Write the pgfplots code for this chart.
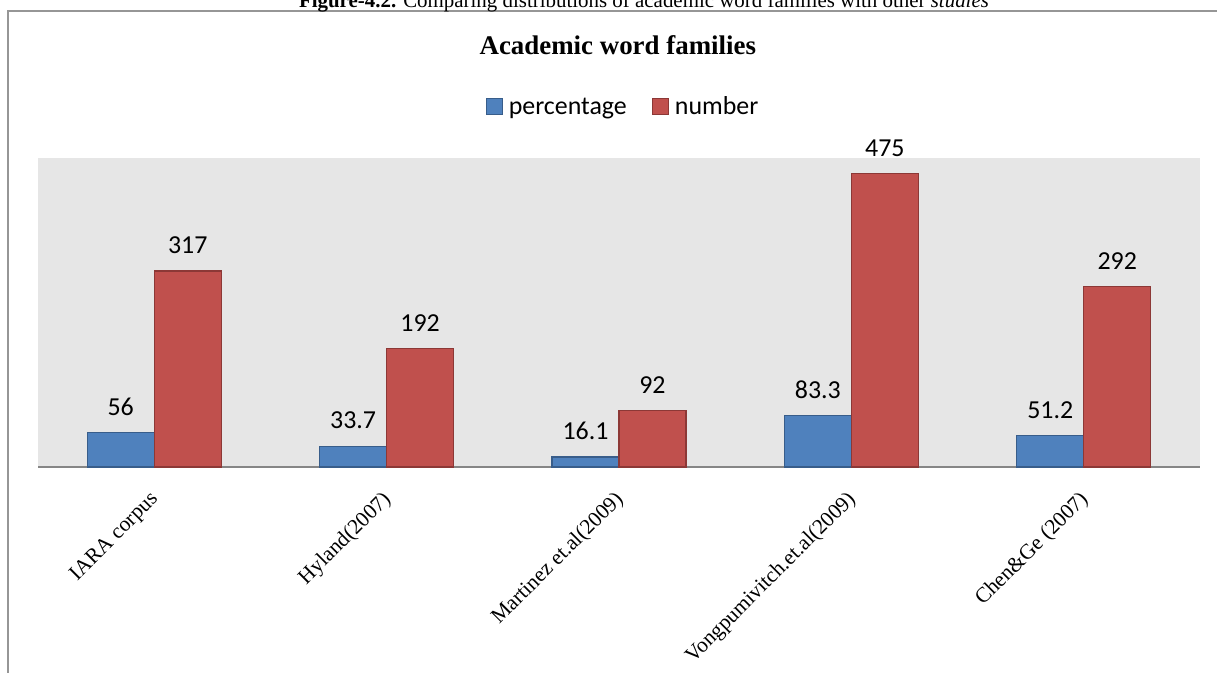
\documentclass[border=0pt]{standalone}
\usepackage{fontspec}
\setmainfont{Liberation Serif}
\newfontfamily\calibri{Carlito}
\usepackage{pgfplots}
\pgfplotsset{compat=1.18}

\definecolor{barblue}{RGB}{79,129,189}
\definecolor{barblueedge}{RGB}{56,93,138}
\definecolor{barred}{RGB}{192,80,77}
\definecolor{barrededge}{RGB}{140,56,54}
\definecolor{plotbg}{RGB}{230,230,230}
\definecolor{framegray}{RGB}{150,150,150}
\definecolor{axisgray}{RGB}{134,134,134}

\begin{document}
\begin{tikzpicture}
\useasboundingbox (0bp,0bp) rectangle (1217bp,673bp);
% chart frame
\draw[framegray, line width=2bp] (8bp,-5bp) -- (8bp,662bp) -- (1230bp,662bp);
% figure caption
\node[anchor=base, inner sep=0pt, font=\fontsize{21}{25}\selectfont] at (644bp,665.5bp)
  {\textbf{Figure-4.2.} Comparing distributions of academic word families with other \textit{studies}};

\begin{axis}[
  at={(38bp,206bp)}, anchor=south west,
  scale only axis, width=1162bp, height=309bp,
  xmin=-0.5, xmax=4.5, ymin=0, ymax=500,
  ybar=0pt, bar width=0.2883,
  axis background/.style={fill=plotbg},
  axis x line*=bottom, axis y line=none,
  x axis line style={axisgray, line width=2bp, -},
  xtick={0,...,4},
  xticklabels={IARA corpus, Hyland(2007), Martinez et.al(2009), Vongpumivitch.et.al(2009), Chen\&Ge (2007)},
  major tick length=0pt,
  x tick label style={rotate=45, anchor=north east, font=\fontsize{21.5}{25}\selectfont, inner sep=0pt, xshift=-20bp, yshift=-12bp},
  ytick=\empty,
  nodes near coords,
  every node near coord/.append style={font=\calibri\fontsize{26}{30}\selectfont, inner sep=0pt, yshift=16.5bp, text=black},
  /pgf/number format/assume math mode=true,
  title={Academic word families},
  title style={at={(0.499,1.314)}, anchor=base, font=\bfseries\fontsize{27}{32}\selectfont, inner sep=0pt},
  legend columns=2,
  legend style={at={(0.5026,1.166)}, anchor=center, draw=none, fill=none,
    font=\calibri\fontsize{26}{30}\selectfont, nodes={inner sep=0pt},
    /tikz/every odd column/.append style={column sep=6bp},
    /tikz/every even column/.append style={column sep=25bp}},
  legend image code/.code={\draw[#1] (0bp,-8bp) rectangle (16bp,8bp);},
  clip=false,
]
\addplot[fill=barblue, draw=barblueedge, line width=1.2bp] coordinates {
  (0,56) (1,33.7) (2,16.1) (3,83.3) (4,51.2)};
\addplot[fill=barred, draw=barrededge, line width=1.2bp] coordinates {
  (0,317) (1,192) (2,92) (3,475) (4,292)};
\legend{percentage, number}
\end{axis}
\end{tikzpicture}
\end{document}
